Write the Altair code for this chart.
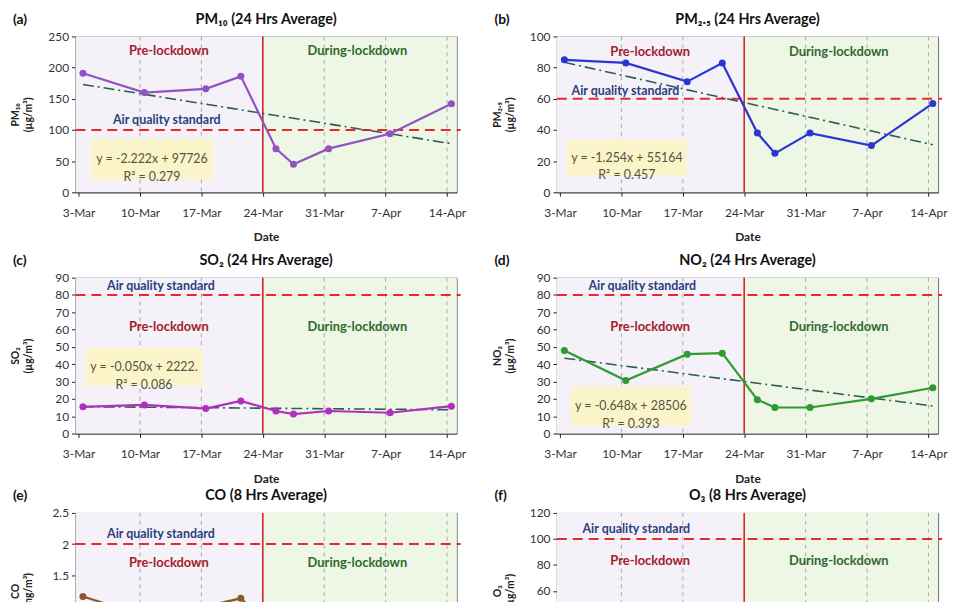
import altair as alt
import pandas as pd

# ---------------- data ----------------
sample_dates = ["2020-03-03 12:00", "2020-03-10 12:00", "2020-03-17 12:00",
                "2020-03-21 12:00", "2020-03-25 12:00", "2020-03-27 12:00",
                "2020-03-31 12:00", "2020-04-07 12:00", "2020-04-14 12:00"]
pm10 = [191, 160, 166, 186, 70, 45, 70, 94, 142]
pm25 = [85, 83, 71, 83, 38, 25, 38, 30, 57]
so2 = [15.4, 16.5, 14.4, 18.8, 13.0, 11.2, 13.0, 12.0, 15.8]
no2 = [47.9, 30.6, 45.8, 46.4, 19.5, 15.0, 15.0, 20.0, 26.4]
co = [1.16, 0.85, 1.0, 1.13, 0.55, 0.45, 0.5, 0.55, 0.6]
o3 = [35, 30, 32, 38, 28, 25, 30, 33, 40]

tick_dates = ["2020-03-03", "2020-03-10", "2020-03-17", "2020-03-24",
              "2020-03-31", "2020-04-07", "2020-04-14"]
tick_labels = ["3-Mar", "10-Mar", "17-Mar", "24-Mar", "31-Mar", "7-Apr", "14-Apr"]
lockdown_date = "2020-03-24"

standards = [100, 60, 80, 80, 2, 100]
trend_first = [173, 83.4, 15.5, 43.5]
trend_last = [78, 30.5, 13.7, 15.9]
eq_lines = ["y = -2.222x + 97726", "y = -1.254x + 55164",
            "y = -0.050x + 2222.", "y = -0.648x + 28506"]
r2_lines = ["R² = 0.279", "R² = 0.457", "R² = 0.086", "R² = 0.393"]

# ---------------- helpers ----------------
FONT = "Lato"
W, H = 384, 157
X_LO, X_HI = 2.65, 46.1
origin = pd.Timestamp("2020-03-01")


def day(s):
    return (pd.Timestamp(s) - origin).total_seconds() / 86400 + 1


tick_days = [day(d) for d in tick_dates]
lock_day = day(lockdown_date)
sample_days = [day(d) for d in sample_dates]

label_expr = "''"
for d, lab in zip(reversed(tick_days), reversed(tick_labels)):
    label_expr = f"datum.value == {d:g} ? '{lab}' : ({label_expr})"

xaxis = alt.Axis(values=tick_days, labelExpr=label_expr, title="Date", grid=False,
                 labelFontSize=12, labelColor="#333", titleFontSize=12,
                 titleFontWeight="bold", titleColor="#222", tickSize=4,
                 tickColor="#222", domainColor="#222", labelPadding=11,
                 titlePadding=14, labelFlush=False)
xscale = alt.Scale(domain=[X_LO, X_HI], nice=False, zero=False)


def panel(letter, title, ytitle, values, color, ymax, ystep, yfmt, std, aqs_pos,
          pre_y, eq=None, r2=None, eq_box=None, trend=None):
    yaxis = alt.Axis(values=[i * ystep for i in range(int(round(ymax / ystep)) + 1)],
                     format=yfmt, title=ytitle, grid=False, labelFontSize=12,
                     labelColor="#333", titleFontSize=10.5, titleFontWeight="bold",
                     titleColor="#222", tickSize=4, tickColor="#222",
                     domainColor="#222", labelPadding=3, minExtent=28,
                     maxExtent=28, titlePadding=14, titleLineHeight=13)
    yscale = alt.Scale(domain=[0, ymax], nice=False, zero=True)

    def X(f):
        return alt.X(f, type="quantitative", scale=xscale, axis=xaxis)

    def Y(f):
        return alt.Y(f, type="quantitative", scale=yscale, axis=yaxis)

    one = pd.DataFrame({"k": [0]})

    bg_df = pd.DataFrame({"x0": [X_LO, lock_day], "x1": [lock_day, X_HI],
                          "fill": ["#f4f1f8", "#eef6e5"]})
    bg = alt.Chart(bg_df).mark_rect().encode(
        x=X("x0"), x2="x1", y=alt.value(0), y2=alt.value(H),
        color=alt.Color("fill:N", scale=None))

    grid = alt.Chart(pd.DataFrame({"d": tick_days[1:]})).mark_rule(
        color="#a8a8a8", strokeDash=[4, 4], strokeWidth=1).encode(
        x=X("d"), y=alt.value(0), y2=alt.value(H))

    lock = alt.Chart(pd.DataFrame({"d": [lock_day]})).mark_rule(
        color="#d42a2a", strokeWidth=1.6).encode(
        x=X("d"), y=alt.value(0), y2=alt.value(H))

    stdl = alt.Chart(pd.DataFrame({"s": [std]})).mark_rule(
        color="#e8282b", strokeDash=[10, 6], strokeWidth=2).encode(
        y=Y("s"), x=alt.value(0), x2=alt.value(W + 4))

    layers = [bg, grid, lock, stdl]

    if trend is not None:
        tr_df = pd.DataFrame({"d": [sample_days[0], sample_days[-1]], "v": list(trend)})
        layers.append(alt.Chart(tr_df).mark_line(
            color="#2e5d4f", strokeDash=[11, 4, 2, 4], strokeWidth=1.6).encode(
            x=X("d"), y=Y("v")))

    dat = pd.DataFrame({"d": sample_days, "v": values})
    layers.append(alt.Chart(dat).mark_line(
        color=color, strokeWidth=2.2,
        point=alt.OverlayMarkDef(filled=True, size=50, color=color, opacity=1)).encode(
        x=X("d"), y=Y("v")))

    if eq is not None:
        bx0, by0, bx1, by1 = eq_box
        layers.append(alt.Chart(one).mark_rect(color="#fbf4c9").encode(
            x=alt.value(bx0), x2=alt.value(bx1), y=alt.value(by0), y2=alt.value(by1)))
        cx = (bx0 + bx1) / 2
        cy = (by0 + by1) / 2
        layers.append(alt.Chart(one).mark_text(
            text=[eq, r2], lineHeight=18, fontSize=12.5, color="#55553f",
            align="center", baseline="middle", font=FONT).encode(
            x=alt.value(cx), y=alt.value(cy)))

    ax, ay = aqs_pos
    layers.append(alt.Chart(one).mark_text(
        text="Air quality standard", fontSize=12.5, fontWeight="bold",
        color="#2b3f7d", align="center", baseline="middle", font=FONT).encode(
        x=alt.value(ax), y=alt.value(ay)))
    layers.append(alt.Chart(one).mark_text(
        text="Pre-lockdown", fontSize=13, fontWeight="bold", color="#a3202c",
        align="center", baseline="middle", font=FONT).encode(
        x=alt.value(94), y=alt.value(pre_y)))
    layers.append(alt.Chart(one).mark_text(
        text="During-lockdown", fontSize=13, fontWeight="bold", color="#2f6a2f",
        align="center", baseline="middle", font=FONT).encode(
        x=alt.value(284), y=alt.value(pre_y)))
    layers.append(alt.Chart(one).mark_text(
        text=letter, fontSize=14, fontWeight="bold", color="#111",
        align="left", baseline="middle", font=FONT).encode(
        x=alt.value(-63), y=alt.value(-17)))
    layers.append(alt.Chart(one).mark_text(
        text=title, fontSize=14.5, fontWeight="bold", color="#111",
        align="center", baseline="middle", font=FONT).encode(
        x=alt.value(W / 2), y=alt.value(-17)))

    return alt.layer(*layers).properties(width=W, height=H)


pa = panel("(a)", "PM₁₀ (24 Hrs Average)", ["PM₁₀", "(µg/m³)"], pm10, "#9152c2",
           250, 50, "d", standards[0], (92, 84), 15, eq_lines[0], r2_lines[0],
           (16, 103, 138, 144), (trend_first[0], trend_last[0]))
pb = panel("(b)", "PM₂.₅ (24 Hrs Average)", ["PM₂.₅", "(µg/m³)"], pm25, "#2b36d2",
           100, 20, "d", standards[1], (69, 55), 16, eq_lines[1], r2_lines[1],
           (10, 104, 131, 140), (trend_first[1], trend_last[1]))
pc = panel("(c)", "SO₂ (24 Hrs Average)", ["SO₂", "(µg/m³)"], so2, "#b02fbf",
           90, 10, "d", standards[2], (86, 8), 50, eq_lines[2], r2_lines[2],
           (10, 71, 128, 109), (trend_first[2], trend_last[2]))
pd_ = panel("(d)", "NO₂ (24 Hrs Average)", ["NO₂", "(µg/m³)"], no2, "#2f9a2f",
            90, 10, "d", standards[3], (86, 8), 50, eq_lines[3], r2_lines[3],
            (14, 110, 135, 149), (trend_first[3], trend_last[3]))
pe = panel("(e)", "CO (8 Hrs Average)", ["CO", "(mg/m³)"], co, "#8b5a2b",
           2.5, 0.5, "~g", standards[4], (86, 21), 50)
pf = panel("(f)", "O₃ (8 Hrs Average)", ["O₃", "(µg/m³)"], o3, "#e07b00",
           120, 20, "d", standards[5], (80, 16), 48)

row1 = alt.hconcat(pa, pb, spacing=25)
row2 = alt.hconcat(pc, pd_, spacing=25)
row3 = alt.hconcat(pe, pf, spacing=25)

chart = alt.vconcat(alt.vconcat(row1, row2, spacing=8), row3, spacing=2).configure(
    font=FONT, padding={"left": 2, "top": 0, "right": 2, "bottom": 2},
    background="white").configure_view(stroke="#666", strokeWidth=1)

chart.save("out.html", embed_options={"renderer": "svg", "actions": False})
